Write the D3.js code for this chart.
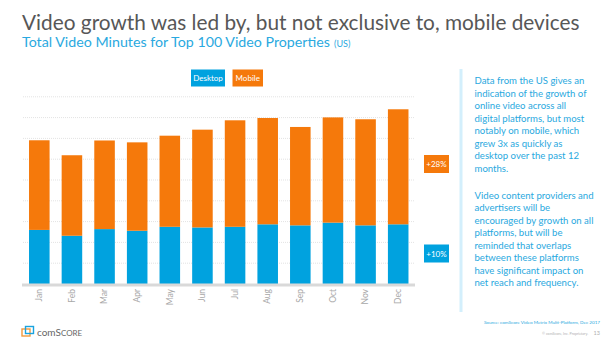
<!DOCTYPE html>
<html><head><meta charset="utf-8">
<script src="https://cdn.jsdelivr.net/npm/d3@7"></script>
<style>
html,body{margin:0;padding:0;background:#fff;}
svg{display:block;font-family:"Lato","Open Sans",sans-serif;}
</style></head>
<body>
<script>
const months = ["Jan","Feb","Mar","Apr","May","Jun","Jul","Aug","Sep","Oct","Nov","Dec"];
const desktop = [2.60,2.32,2.64,2.56,2.75,2.72,2.75,2.87,2.82,2.95,2.82,2.87];
const total   = [6.91,6.19,6.90,6.81,7.13,7.42,7.87,7.98,7.55,8.01,7.92,8.40];
const mobile  = total.map((t,i)=>+(t-desktop[i]).toFixed(2));
const gridTicks = [1,2,3,4,5,6,7,8,9];
const seriesNames = ["Desktop","Mobile"];
const growthLabels = ["+28%","+10%"];
const title = "Video growth was led by, but not exclusive to, mobile devices";
const subtitle = "Total Video Minutes for Top 100 Video Properties";
const para1 = ["Data from the US gives an","indication of the growth of","online video across all","digital platforms, but most","notably on mobile, which","grew 3x as quickly as","desktop over the past 12","months."];
const para2 = ["Video content providers and","advertisers will be","encouraged by growth on all","platforms, but will be","reminded that overlaps","between these platforms","have significant impact on","net reach and frequency."];

const W=612,H=344;
const BLUE="#00a2df", ORANGE="#f5790b", TXTBLUE="#2aa9e0";
const svg=d3.select("body").append("svg").attr("width",W).attr("height",H);

function fitText(sel,target){const w=sel.node().getComputedTextLength();const fs=parseFloat(sel.attr("font-size"));sel.attr("font-size",(fs*target/w).toFixed(2));}

// Title
const t1=svg.append("text").attr("x",22).attr("y",30).attr("font-size",22).attr("fill","#575757").text(title);
fitText(t1,558);
const t2=svg.append("text").attr("x",22).attr("y",47).attr("font-size",14).attr("fill",TXTBLUE).text(subtitle);
fitText(t2,308);
svg.append("text").attr("x",334).attr("y",47).attr("font-size",9).attr("fill",TXTBLUE).text("(US)");

// Scales
const x=d3.scaleBand().domain(months).range([22.5,415]).paddingInner(0.37).paddingOuter(0.2);
const y=d3.scaleLinear().domain([0,9]).range([284,96.8]);

// grid
svg.append("g").selectAll("line").data(gridTicks).join("line")
 .attr("x1",23).attr("x2",415).attr("y1",d=>y(d)).attr("y2",d=>y(d))
 .attr("stroke","#e3e3e3").attr("stroke-width",1).attr("stroke-dasharray","1,1");

// bars
const g=svg.append("g");
g.selectAll("rect.d").data(months).join("rect").attr("class","d")
 .attr("x",d=>x(d)).attr("width",x.bandwidth())
 .attr("y",(d,i)=>y(desktop[i])).attr("height",(d,i)=>y(0)-y(desktop[i])).attr("fill",BLUE);
g.selectAll("rect.m").data(months).join("rect").attr("class","m")
 .attr("x",d=>x(d)).attr("width",x.bandwidth())
 .attr("y",(d,i)=>y(desktop[i]+mobile[i])).attr("height",(d,i)=>y(desktop[i])-y(desktop[i]+mobile[i])).attr("fill",ORANGE);

// baseline
svg.append("line").attr("x1",22).attr("x2",415).attr("y1",y(0)+1).attr("y2",y(0)+1).attr("stroke","#d9d9d9").attr("stroke-width",3);

// x axis labels
const xa=svg.append("g").attr("transform",`translate(0,${y(0)+4})`)
 .call(d3.axisBottom(x).tickSize(0).tickPadding(0));
xa.select(".domain").remove();
xa.selectAll("text").attr("transform","rotate(-90)").attr("text-anchor","end")
 .attr("dx","0").attr("dy","0.32em").attr("x",-0).attr("y",0)
 .attr("font-size",8.5).attr("fill","#a8a8a8").attr("font-family","Lato, sans-serif");
xa.selectAll(".tick text").attr("text-anchor","end").attr("transform","rotate(-90)").attr("x",-1);

// legend
const leg=[{n:seriesNames[0],c:BLUE,x:191,w:34},{n:seriesNames[1],c:ORANGE,x:232.5,w:30.5}];
leg.forEach(l=>{
 svg.append("rect").attr("x",l.x).attr("y",69.5).attr("width",l.w).attr("height",17).attr("fill",l.c);
 svg.append("text").attr("x",l.x+l.w/2).attr("y",81).attr("text-anchor","middle").attr("font-size",8).attr("fill","#fff").text(l.n);
});

// growth labels
[{t:growthLabels[0],c:ORANGE,y:155},{t:growthLabels[1],c:BLUE,y:244.5}].forEach(l=>{
 svg.append("rect").attr("x",424).attr("y",l.y).attr("width",25).attr("height",18).attr("fill",l.c);
 svg.append("text").attr("x",436.5).attr("y",l.y+12).attr("text-anchor","middle").attr("font-size",8).attr("fill","#fff").text(l.t);
});

// right panel
svg.append("rect").attr("x",459.5).attr("y",69).attr("width",3).attr("height",243).attr("fill","#d3effc");
const pt=svg.append("g").attr("fill",TXTBLUE).attr("font-size",10.3);
para1.forEach((s,i)=>pt.append("text").attr("x",474.5).attr("y",84+i*12.5).text(s));
para2.forEach((s,i)=>pt.append("text").attr("x",474.5).attr("y",198.5+i*12.5).text(s));
// fit to longest line width
const longest=pt.selectAll("text").filter(function(){return this.textContent==="encouraged by growth on all";});
const lw=longest.node().getComputedTextLength();
pt.attr("font-size",(10.3*119/lw).toFixed(2));

// footer
const src=svg.append("text").attr("x",600).attr("y",324).attr("text-anchor","end").attr("font-size",4.6).attr("fill",TXTBLUE).text("Source: comScore Video Metrix Multi-Platform, Dec 2017");
svg.append("text").attr("x",588).attr("y",335).attr("text-anchor","end").attr("font-size",3.6).attr("fill","#b0b0b0").text("© comScore, Inc. Proprietary.");
svg.append("text").attr("x",600).attr("y",335).attr("text-anchor","end").attr("font-size",5.5).attr("fill","#b0b0b0").text("13");

// logo
const lg=svg.append("g");
lg.append("rect").attr("x",22).attr("y",329).attr("width",8).attr("height",7).attr("fill","none").attr("stroke","#f39a3c").attr("stroke-width",1.4);
lg.append("rect").attr("x",25.5).attr("y",326.5).attr("width",8).attr("height",7).attr("fill","none").attr("stroke","#1aa3de").attr("stroke-width",1.4);
lg.append("text").attr("x",37).attr("y",336).attr("font-size",10).attr("fill","#666").attr("font-family","Lato, sans-serif")
 .html('com<tspan font-size="10">S</tspan><tspan font-size="8">CORE</tspan>');
</script>
</body></html>
